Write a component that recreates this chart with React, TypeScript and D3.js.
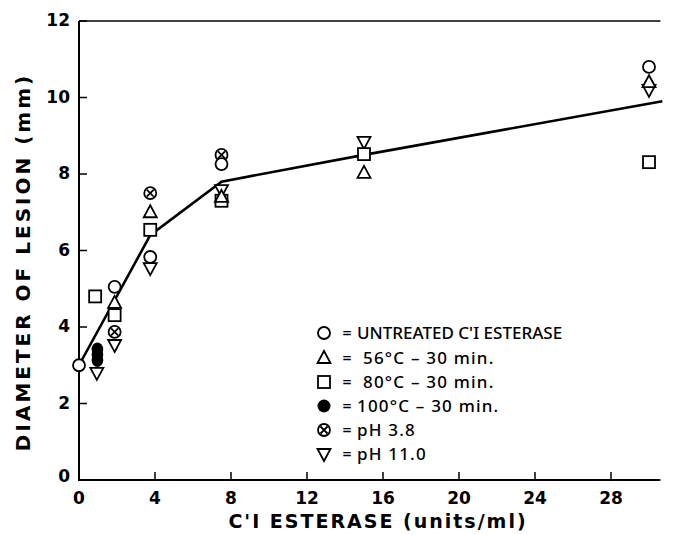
import React from 'react'
import * as d3 from 'd3'

// dilution series (units/ml) and lesion diameters (mm)
const untreated: [number, number][] = [[0, 3.0], [1.875, 5.05], [3.75, 5.83], [7.5, 8.26], [30, 10.8]];
const heat56: [number, number][] = [[1.875, 4.63], [3.75, 7.0], [7.5, 7.4], [15, 8.03], [30, 10.4]];
const heat80: [number, number][] = [[0.85, 4.8], [1.875, 4.31], [3.75, 6.54], [7.5, 7.3], [15, 8.52], [30, 8.31]];
const heat100: [number, number][] = [[0.97, 3.13], [0.97, 3.28], [0.97, 3.42]];
const ph38: [number, number][] = [[1.875, 3.87], [3.75, 7.5], [7.5, 8.5]];
const ph11: [number, number][] = [[0.94, 2.8], [1.875, 3.53], [3.75, 5.54], [7.5, 7.58], [15, 8.84], [30, 10.2]];
const fitLine: [number, number][] = [[0, 3.0], [3.75, 6.4], [7.5, 7.8], [15, 8.5], [30.7, 9.9]];

const xTicks = [0, 4, 8, 12, 16, 20, 24, 28];
const yTicks = [0, 2, 4, 6, 8, 10, 12];
const legendLabels = ['UNTREATED C\'I ESTERASE', '56°C – 30 min.', '80°C – 30 min.', '100°C – 30 min.', 'pH 3.8', 'pH 11.0'];
const legendKinds = ['circle', 'up', 'square', 'filled', 'otimes', 'down'];

const W = 678, H = 535;
const font = "'DejaVu Sans', sans-serif";

function Marker({ kind, x, y, legend }: { kind: string; x: number; y: number; legend?: boolean }) {
  const s = 1.8;
  if (kind === 'circle') return <circle cx={x} cy={y} r={6} fill="#fff" stroke="#000" strokeWidth={s} />;
  if (kind === 'filled') return legend
    ? <circle cx={x} cy={y} r={6.5} fill="#000" />
    : <ellipse cx={x} cy={y} rx={5.8} ry={6.8} fill="#000" />;
  if (kind === 'square') return <rect x={x - 6} y={y - 6} width={12} height={12} fill="#fff" stroke="#000" strokeWidth={s} />;
  if (kind === 'up') return <path d={`M${x},${y - 7}L${x + 6.5},${y + 5}L${x - 6.5},${y + 5}Z`} fill="#fff" stroke="#000" strokeWidth={s} />;
  if (kind === 'down') return <path d={`M${x},${y + 7}L${x + 6.5},${y - 5}L${x - 6.5},${y - 5}Z`} fill="#fff" stroke="#000" strokeWidth={s} />;
  // circle with x
  return (
    <g stroke="#000" strokeWidth={s} fill="#fff">
      <circle cx={x} cy={y} r={6} />
      <path d={`M${x - 3.5},${y - 3.5}L${x + 3.5},${y + 3.5}M${x + 3.5},${y - 3.5}L${x - 3.5},${y + 3.5}`} />
    </g>
  );
}

export default function App() {
  const x = d3.scaleLinear().domain([0, 30]).range([79, 649]);
  const y = d3.scaleLinear().domain([0, 12]).range([480, 21]);
  const line = d3.line<[number, number]>().x(d => x(d[0])).y(d => y(d[1]));
  const xEnd = x(30.6);

  const series: [string, [number, number][]][] = [
    ['down', ph11], ['square', heat80], ['up', heat56], ['otimes', ph38], ['circle', untreated], ['filled', heat100],
  ];

  const legendY = [333, 358, 382, 406, 430, 454];
  const legendX = [357, 363, 363, 357, 357, 357];

  return (
    <div style={{ position: 'absolute', left: 0, top: 0 }}>
      <svg width={W} height={H} style={{ background: '#fff', display: 'block' }} fontFamily={font}>
        {/* frame */}
        <path d={`M${x(0)},${y(12)}V${y(0)}H${xEnd}`} fill="none" stroke="#000" strokeWidth={2} />
        <line x1={x(0)} x2={xEnd} y1={y(12)} y2={y(12)} stroke="#000" strokeWidth={1.5} />
        {yTicks.map(t => (
          <g key={'y' + t}>
            <line x1={x(0)} x2={x(0) + 8} y1={y(t)} y2={y(t)} stroke="#000" strokeWidth={1.5} />
            <text x={70} y={y(t) + (t === 0 ? -3 : 0)} textAnchor="end" dominantBaseline="middle" fontSize={17} fontWeight="bold">{t}</text>
          </g>
        ))}
        {xTicks.map(t => (
          <g key={'x' + t}>
            <line x1={x(t)} x2={x(t)} y1={y(0)} y2={y(0) - 8} stroke="#000" strokeWidth={1.5} />
            <text x={x(t)} y={504} textAnchor="middle" fontSize={17} fontWeight="bold">{t}</text>
          </g>
        ))}
        <text x={378} y={528} textAnchor="middle" fontSize={19} fontWeight="bold" letterSpacing={2}>C'I ESTERASE (units/ml)</text>
        <text transform={`translate(30,262) rotate(-90)`} textAnchor="middle" fontSize={20} fontWeight="bold" letterSpacing={3}>DIAMETER OF LESION (mm)</text>

        <path d={line(fitLine) || ''} fill="none" stroke="#000" strokeWidth={2.6} />

        {series.map(([kind, pts]) =>
          pts.map((p, i) => <Marker key={kind + i} kind={kind} x={x(p[0])} y={y(p[1])} />)
        )}

        {legendLabels.map((lab, i) => (
          <g key={'l' + i}>
            <Marker kind={legendKinds[i]} x={324} y={legendY[i]} legend />
            <text x={342} y={legendY[i]} dominantBaseline="middle" fontSize={12} fontWeight="bold">=</text>
            <text x={legendX[i]} y={legendY[i] + 1} dominantBaseline="middle" fontSize={17}
              letterSpacing={i === 0 ? 0 : 1.2} fontFamily="'Noto Sans', sans-serif" fontWeight={500}>{lab}</text>
          </g>
        ))}
      </svg>
    </div>
  );
}
